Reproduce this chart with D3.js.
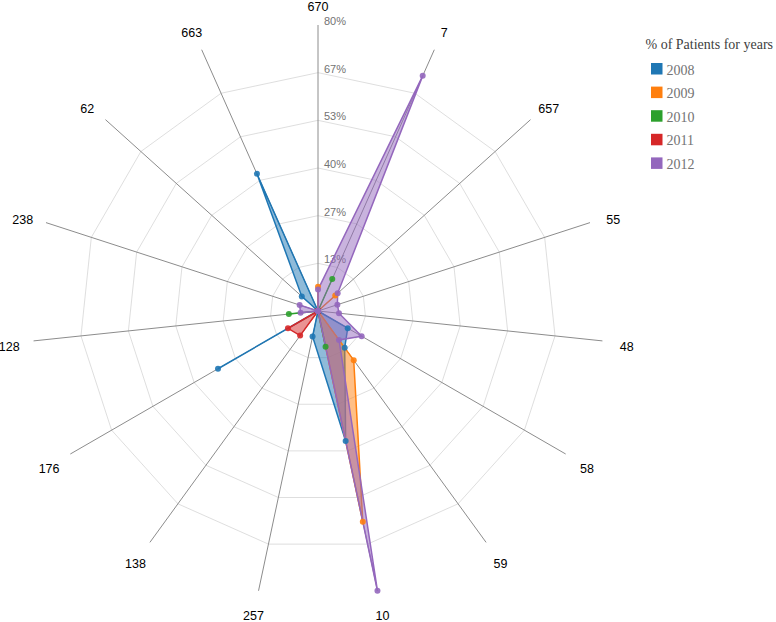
<!DOCTYPE html>
<html>
<head>
<meta charset="utf-8">
<script src="https://cdn.jsdelivr.net/npm/d3@7"></script>
<style>
  html, body { margin: 0; padding: 0; background: #fff; }
  svg { display: block; }
</style>
</head>
<body>
<div id="chart"></div>
<script>
// ---- data ----
const axes = ["670","7","657","55","48","58","59","10","257","138","176","128","238","62","663"];
const years = ["2008","2009","2010","2011","2012"];
const v2008 = [0, 0, 0, 0, 0, 0.096, 0.127, 0.372, 0.073, 0, 0.323, 0, 0, 0.061, 0.42];
const v2009 = [0.068, 0, 0.065, 0, 0, 0, 0.17, 0.603, 0, 0, 0, 0, 0, 0, 0];
const v2010 = [0, 0.098, 0, 0, 0, 0, 0, 0.102, 0, 0, 0, 0.082, 0, 0, 0];
const v2011 = [0, 0, 0, 0, 0, 0, 0, 0, 0, 0.085, 0.097, 0, 0, 0, 0];
const v2012 = [0.06, 0.72, 0.074, 0.057, 0.059, 0.141, 0.10, 0.80, 0, 0, 0, 0.049, 0.054, 0, 0];
const seriesValues = [v2008, v2009, v2010, v2011, v2012];
const maxValue = 0.8;
const levels = 6;
const levelTicks = d3.range(1, levels + 1).map(j => maxValue * j / levels);
const legendTitle = "% of Patients for years";

// ---- layout ----
const W = 776, H = 622;
const cx = 318, cy = 311, R = 286;
const color = d3.scaleOrdinal().domain(years).range(d3.schemeCategory10);
const rScale = d3.scaleLinear().domain([0, maxValue]).range([0, R]);
const angle = d3.scaleLinear().domain([0, axes.length]).range([0, 2 * Math.PI]);

const px = (i, v) => cx + rScale(v) * Math.sin(angle(i));
const py = (i, v) => cy - rScale(v) * Math.cos(angle(i));

const svg = d3.select("#chart").append("svg").attr("width", W).attr("height", H);
const g = svg.append("g");

// grid levels (1..levels-1)
levelTicks.slice(0, levels - 1).forEach(lv => {
  const pts = axes.map((a, i) => [px(i, lv), py(i, lv)]);
  g.append("polygon")
    .attr("points", pts.map(p => p.join(",")).join(" "))
    .attr("fill", "none")
    .attr("stroke", "#d6d6d6")
    .attr("stroke-width", 0.8);
});

// axis lines
g.selectAll(".axis").data(axes).enter().append("line")
  .attr("x1", cx).attr("y1", cy)
  .attr("x2", (d, i) => px(i, maxValue))
  .attr("y2", (d, i) => py(i, maxValue))
  .attr("stroke", "#8c8c8c")
  .attr("stroke-width", 1);

// level labels
g.selectAll(".lvl").data(levelTicks).enter().append("text")
  .attr("x", cx + 6)
  .attr("y", d => cy - rScale(d))
  .attr("font-family", "Liberation Sans, Arial, sans-serif")
  .attr("font-size", "11px")
  .attr("fill", "#737373")
  .text(d => d3.format(".0%")(d));

// axis labels
g.selectAll(".axlabel").data(axes).enter().append("text")
  .attr("text-anchor", "middle")
  .attr("x", (d, i) => cx + 310.5 * Math.sin(angle(i)))
  .attr("y", (d, i) => cy - 308 * Math.cos(angle(i)) + 7.7)
  .attr("font-family", "Liberation Sans, Arial, sans-serif")
  .attr("font-size", "12.5px")
  .attr("fill", "#000")
  .text(d => d);

// polygons
seriesValues.forEach((vals, s) => {
  const pts = vals.map((v, i) => [px(i, v), py(i, v)]);
  g.append("polygon")
    .attr("points", pts.map(p => p.join(",")).join(" "))
    .attr("fill", color(years[s]))
    .attr("fill-opacity", 0.5)
    .attr("stroke", color(years[s]))
    .attr("stroke-width", 1.5);
});

// points
seriesValues.forEach((vals, s) => {
  g.selectAll(".n" + s).data(vals).enter().append("circle")
    .attr("cx", (v, i) => px(i, v))
    .attr("cy", (v, i) => py(i, v))
    .attr("r", 3)
    .attr("fill", color(years[s]))
    .attr("fill-opacity", 0.9);
});

// legend
const lg = svg.append("g");
lg.append("text")
  .attr("x", 645.5).attr("y", 49)
  .attr("font-family", "Liberation Serif, Times New Roman, serif")
  .attr("font-size", "14px")
  .attr("fill", "#404040")
  .text(legendTitle);
const ly = d3.scaleBand().domain(years).range([63, 63 + 23.6 * years.length]);
lg.selectAll(".lsq").data(years).enter().append("rect")
  .attr("x", 651).attr("y", d => ly(d))
  .attr("width", 11.5).attr("height", 11.5)
  .attr("fill", d => color(d));
lg.selectAll(".ltx").data(years).enter().append("text")
  .attr("x", 666.5).attr("y", d => ly(d) + 11.5)
  .attr("font-family", "Liberation Serif, Times New Roman, serif")
  .attr("font-size", "14px")
  .attr("fill", "#737373")
  .text(d => d);
</script>
</body>
</html>
